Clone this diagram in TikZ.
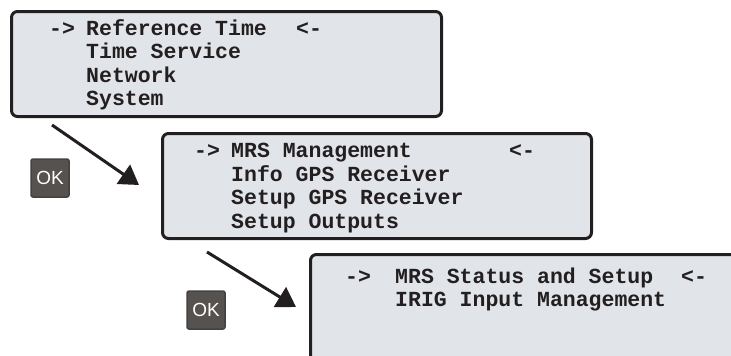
\documentclass[tikz,border=0pt]{standalone}
\usepackage{fontspec}
\setmonofont{Liberation Mono}
\setsansfont{Liberation Sans}
\usetikzlibrary{arrows.meta}
\usetikzlibrary{positioning}

\definecolor{screengray}{HTML}{E1E4E8}
\definecolor{frameblack}{HTML}{231F20}
\definecolor{keygray}{HTML}{555250}

\begin{document}
\begin{tikzpicture}[x=1pt, y=-1pt,
  menubox/.style={draw=frameblack, fill=screengray, line width=3pt, rounded corners=6pt, inner sep=0pt},
  menuline/.style={anchor=base west, inner sep=0pt, text=frameblack,
    font=\ttfamily\bfseries\fontsize{21.5}{24}\selectfont},
  okkey/.style={draw=frameblack!85, fill=keygray, line width=1.5pt, rounded corners=2pt,
    minimum size=38pt, inner sep=0pt, text=white, font=\sffamily\fontsize{19}{22}\selectfont},
  navarrow/.style={draw=frameblack, line width=3pt, -{Triangle[length=19pt,width=23pt]}}]

  \useasboundingbox (0,0) rectangle (731,356);
  \clip (0,0) rectangle (731,356);

  % menu screens
  \node[menubox, minimum width=430pt, minimum height=105pt] (menu1) at (226.5,64) {};
  \node[menubox, minimum width=429pt, minimum height=105pt] (menu2) at (377,186) {};
  \node[menubox, minimum width=450pt, minimum height=126pt] (menu3) at (535.5,317.5) {};

  % first screen
  \node[menuline] (sel1l) at (49,35) {->};
  \node[menuline] (reftime) at (86,35) {Reference Time};
  \node[menuline] (sel1r) at (296,35) {<-};
  \node[menuline] (timeserv) at (86,58.5) {Time Service};
  \node[menuline] (network) at (86,82) {Network};
  \node[menuline] (system) at (86,105.5) {System};

  % second screen
  \node[menuline] (sel2l) at (194,157.5) {->};
  \node[menuline] (mrsmgmt) at (231,157.5) {MRS Management};
  \node[menuline] (sel2r) at (509,157.5) {<-};
  \node[menuline] (infogps) at (231,181) {Info GPS Receiver};
  \node[menuline] (setupgps) at (231,204.5) {Setup GPS Receiver};
  \node[menuline] (setupout) at (231,228) {Setup Outputs};

  % third screen
  \node[menuline] (sel3l) at (345,283) {->};
  \node[menuline] (mrsstat) at (395,283) {MRS Status and Setup};
  \node[menuline] (sel3r) at (681,283) {<-};
  \node[menuline] (irigin) at (395,306) {IRIG Input Management};

  % OK keys and arrows
  \node[okkey] (ok1) at (50,178) {OK};
  \node[okkey] (ok2) at (206,310) {OK};

  \coordinate (go1a) at (52,125);
  \coordinate (go1b) at (139,185);
  \coordinate (go2a) at (207,252);
  \coordinate (go2b) at (296,307);
  \draw[navarrow] (go1a) -- (go1b);
  \draw[navarrow] (go2a) -- (go2b);
\end{tikzpicture}
\end{document}
